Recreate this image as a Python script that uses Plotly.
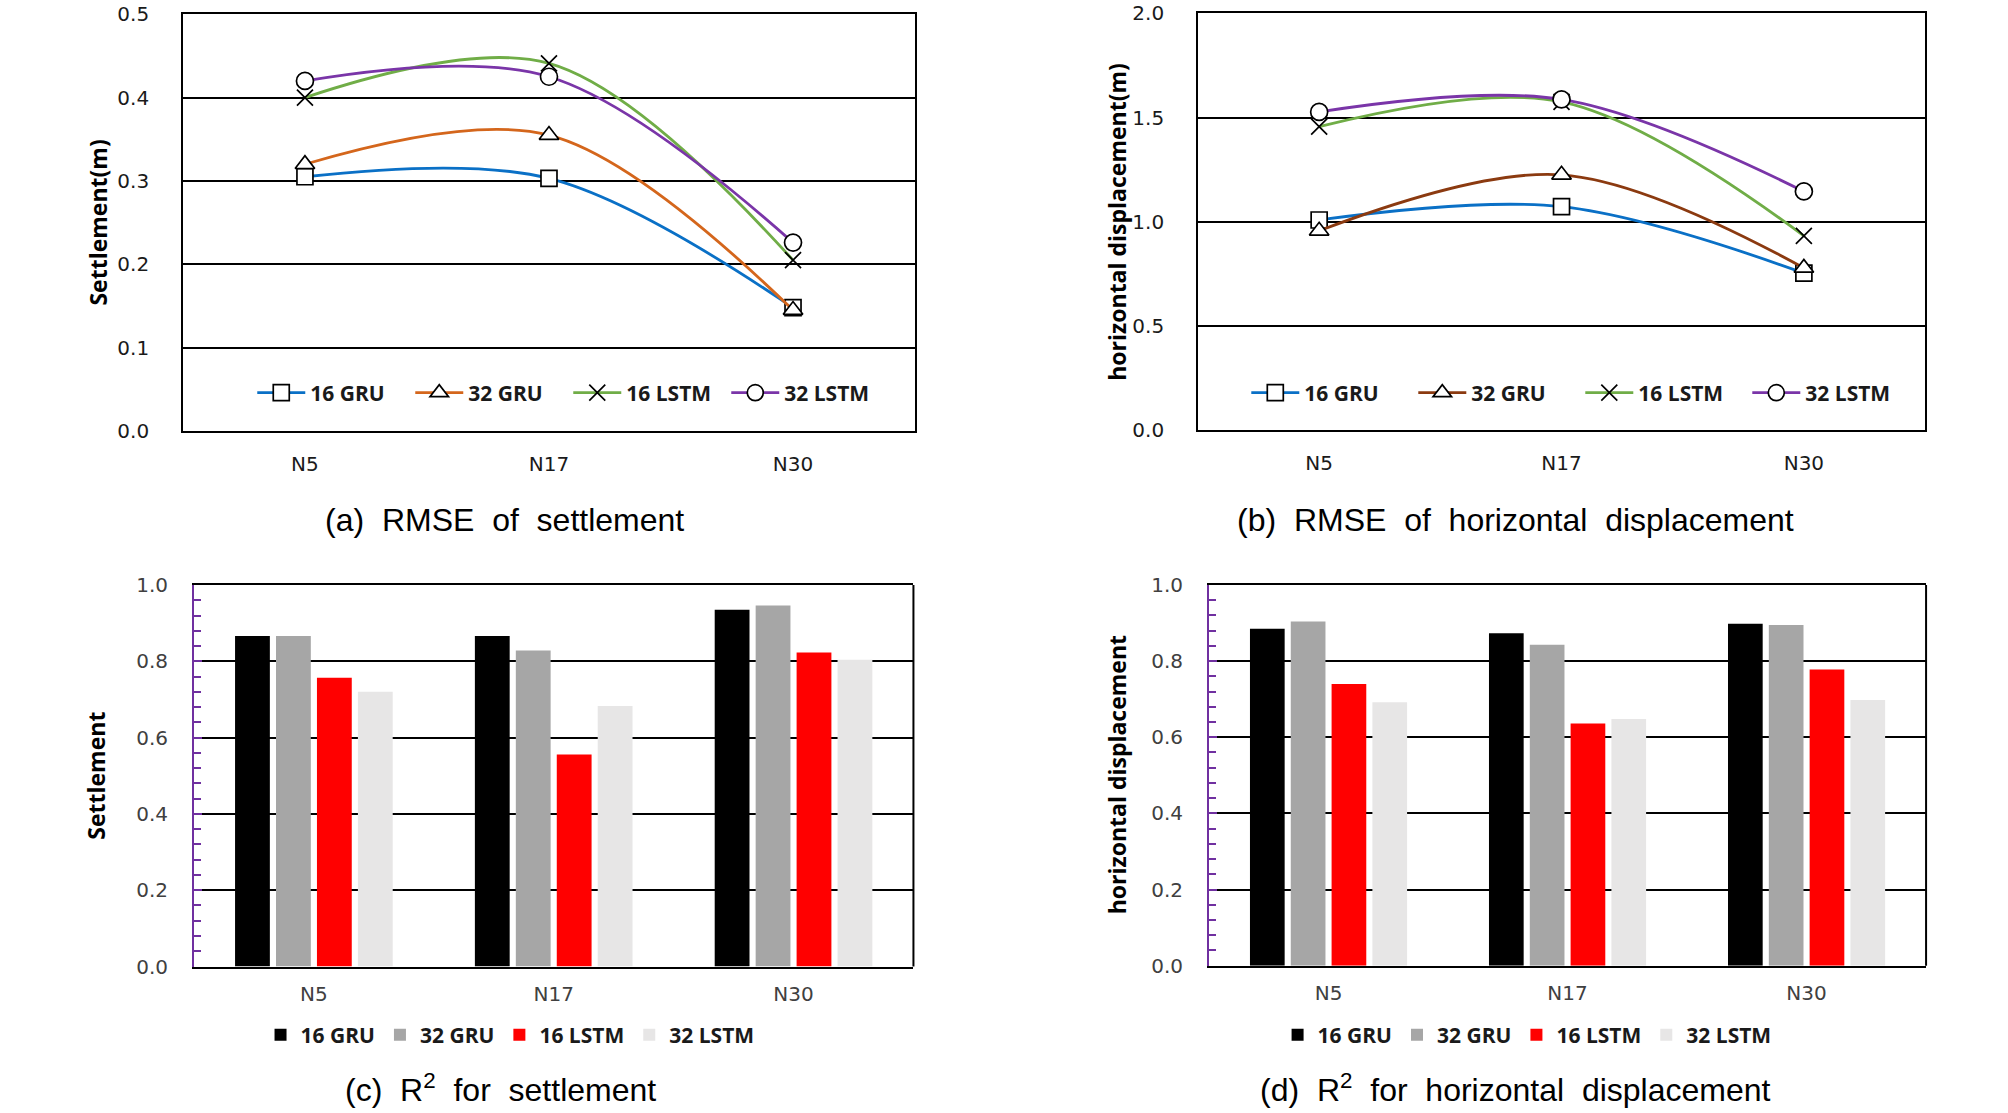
import plotly.graph_objects as go

# categories
stations = ["N5", "N17", "N30"]
models = ["16 GRU", "32 GRU", "16 LSTM", "32 LSTM"]

# (a) RMSE of settlement (m)
rmse_set_16gru = [0.305, 0.303, 0.148]
rmse_set_32gru = [0.320, 0.355, 0.145]
rmse_set_16lstm = [0.400, 0.441, 0.205]
rmse_set_32lstm = [0.420, 0.425, 0.226]

# (b) RMSE of horizontal displacement (m)
rmse_hor_16gru = [1.008, 1.072, 0.753]
rmse_hor_32gru = [0.956, 1.225, 0.778]
rmse_hor_16lstm = [1.456, 1.575, 0.932]
rmse_hor_32lstm = [1.527, 1.587, 1.145]

# (c) R2 for settlement
r2_set_16gru = [0.866, 0.866, 0.935]
r2_set_32gru = [0.866, 0.828, 0.946]
r2_set_16lstm = [0.757, 0.556, 0.823]
r2_set_32lstm = [0.720, 0.683, 0.804]

# (d) R2 for horizontal displacement
r2_hor_16gru = [0.885, 0.873, 0.898]
r2_hor_32gru = [0.904, 0.843, 0.895]
r2_hor_16lstm = [0.740, 0.636, 0.778]
r2_hor_32lstm = [0.692, 0.648, 0.698]

W, H = 2008, 1113
TICK_FONT = "DejaVu Sans"
BOLD_FONT = "Open Sans"
TITLE_FONT = "Liberation Sans Narrow, Liberation Sans, Arial, sans-serif"
PURPLE_AXIS = "#7030a0"

fig = go.Figure()

symbols = ["square", "triangle-up", "x-thin", "circle"]
sizes = [16, 17, 16, 17]
colors_a = ["#0a70c6", "#d4661c", "#70ad47", "#7a35a8"]
colors_b = ["#0a70c6", "#8b3a10", "#70ad47", "#7a35a8"]

series_a = [rmse_set_16gru, rmse_set_32gru, rmse_set_16lstm, rmse_set_32lstm]
series_b = [rmse_hor_16gru, rmse_hor_32gru, rmse_hor_16lstm, rmse_hor_32lstm]

for i, ys in enumerate(series_a):
    fig.add_trace(go.Scatter(
        x=stations, y=ys, name=models[i], mode="lines+markers",
        line=dict(color=colors_a[i], width=2.8, shape="spline", smoothing=1.0),
        marker=dict(symbol=symbols[i], size=sizes[i], color="white",
                    line=dict(color="black", width=1.7)),
        xaxis="x", yaxis="y", legend="legend"))

for i, ys in enumerate(series_b):
    fig.add_trace(go.Scatter(
        x=stations, y=ys, name=models[i], mode="lines+markers",
        line=dict(color=colors_b[i], width=2.8, shape="spline", smoothing=1.0),
        marker=dict(symbol=symbols[i], size=sizes[i], color="white",
                    line=dict(color="black", width=1.7)),
        xaxis="x2", yaxis="y2", legend="legend2"))

bar_colors = ["#000000", "#a6a6a6", "#ff0000", "#e7e6e6"]
series_c = [r2_set_16gru, r2_set_32gru, r2_set_16lstm, r2_set_32lstm]
series_d = [r2_hor_16gru, r2_hor_32gru, r2_hor_16lstm, r2_hor_32lstm]

for i, ys in enumerate(series_c):
    fig.add_trace(go.Bar(x=stations, y=ys, name=models[i],
                         marker=dict(color=bar_colors[i], line=dict(width=0)),
                         xaxis="x3", yaxis="y3", legend="legend3"))

for i, ys in enumerate(series_d):
    fig.add_trace(go.Bar(x=stations, y=ys, name=models[i],
                         marker=dict(color=bar_colors[i], line=dict(width=0)),
                         xaxis="x4", yaxis="y4", legend="legend4"))


def line_x(domain, anchor):
    return dict(domain=domain, anchor=anchor, type="category", range=[-0.5, 2.5],
                showline=True, linecolor="black", linewidth=2, mirror=True,
                showgrid=False, ticks="", automargin=False,
                tickfont=dict(family=TICK_FONT, size=20, color="#1a1a1a"),
                ticklabelstandoff=14)


def line_y(domain, anchor, top, step):
    return dict(domain=domain, anchor=anchor, range=[0, top], dtick=step,
                tickformat=".1f", showline=True, linecolor="black", linewidth=1.6,
                mirror=True, showgrid=True, gridcolor="black", gridwidth=1.6,
                zeroline=False, ticks="", automargin=False,
                tickfont=dict(family=TICK_FONT, size=20, color="#1a1a1a"),
                ticklabelstandoff=28)


def bar_x(domain, anchor):
    return dict(domain=domain, anchor=anchor, type="category", range=[-0.5, 2.5],
                showline=True, linecolor="black", linewidth=2, mirror=True,
                showgrid=False, ticks="", automargin=False,
                tickfont=dict(family=TICK_FONT, size=20, color="#404040"),
                ticklabelstandoff=8)


def bar_y(domain, anchor):
    return dict(domain=domain, anchor=anchor, range=[0, 1.0], dtick=0.2,
                tickformat=".1f", showline=True, linecolor=PURPLE_AXIS, linewidth=2,
                showgrid=True, gridcolor="black", gridwidth=1.8, zeroline=False,
                ticks="inside", ticklen=8, tickwidth=1.5, tickcolor=PURPLE_AXIS,
                minor=dict(dtick=0.04, ticks="inside", ticklen=7, tickwidth=1.5,
                           tickcolor=PURPLE_AXIS, showgrid=False),
                automargin=False,
                tickfont=dict(family=TICK_FONT, size=20, color="#404040"),
                ticklabelstandoff=20)


dom_a_x, dom_a_y = [0.0911, 0.4557], [0.6128, 0.9872]
dom_b_x, dom_b_y = [0.5966, 0.9587], [0.6137, 0.9880]
dom_c_x, dom_c_y = [0.0966, 0.4549], [0.1316, 0.4744]
dom_d_x, dom_d_y = [0.6021, 0.9592], [0.1324, 0.4744]

legend_font = dict(family=BOLD_FONT, size=21, color="#1a1a1a", weight="bold")


def legend_at(x, y, itemwidth, entrywidth):
    return dict(orientation="h", x=x, y=y, xanchor="center", yanchor="middle",
                bgcolor="rgba(0,0,0,0)", font=legend_font, itemwidth=itemwidth,
                entrywidth=entrywidth, entrywidthmode="pixels",
                traceorder="normal", tracegroupgap=0)


fig.update_layout(
    width=W, height=H, autosize=False,
    margin=dict(l=0, r=0, t=0, b=0, autoexpand=False),
    paper_bgcolor="white", plot_bgcolor="white",
    barmode="group", bargap=0.317, bargroupgap=0.15,
    xaxis=line_x(dom_a_x, "y"), yaxis=line_y(dom_a_y, "x", 0.5, 0.1),
    xaxis2=line_x(dom_b_x, "y2"), yaxis2=line_y(dom_b_y, "x2", 2.0, 0.5),
    xaxis3=bar_x(dom_c_x, "y3"), yaxis3=bar_y(dom_c_y, "x3"),
    xaxis4=bar_x(dom_d_x, "y4"), yaxis4=bar_y(dom_d_y, "x4"),
    legend=legend_at(0.2830, 0.6469, 48, 95),
    legend2=legend_at(0.7870, 0.6469, 48, 104),
    legend3=legend_at(0.254, 0.0701, 30, 0),
    legend4=legend_at(0.7605, 0.0701, 30, 0),
    showlegend=True,
)

# right border of the bar panels is black while the value axis is purple
for xr, yr in [("x3 domain", "y3 domain"), ("x4 domain", "y4 domain")]:
    fig.add_shape(type="line", xref=xr, yref=yr, x0=1, x1=1, y0=0, y1=1,
                  line=dict(color="black", width=2), layer="above")

# y axis titles
ytitles = [
    ("Settlement(m)", 0.0488, 0.8000),
    ("horizontal displacement(m)", 0.5563, 0.8008),
    ("Settlement", 0.0478, 0.3030),
    ("horizontal displacement", 0.5563, 0.3034),
]
for text, x, y in ytitles:
    fig.add_annotation(text=text, x=x, y=y, xref="paper", yref="paper",
                       textangle=-90, showarrow=False, xanchor="center", yanchor="middle",
                       font=dict(family=BOLD_FONT, size=23, color="black", weight="bold"))

# panel captions
sp = "&nbsp; "
captions = [
    ("(a)" + sp + "RMSE" + sp + "of" + sp + "settlement", 0.2510, 0.5330),
    ("(b)" + sp + "RMSE" + sp + "of" + sp + "horizontal" + sp + "displacement", 0.7545, 0.5330),
    ("(c)" + sp + "R<sup>2</sup>" + sp + "for" + sp + "settlement", 0.2493, 0.0225),
    ("(d)" + sp + "R<sup>2</sup>" + sp + "for" + sp + "horizontal" + sp + "displacement", 0.7545, 0.0225),
]
for text, x, y in captions:
    fig.add_annotation(text=text, x=x, y=y, xref="paper", yref="paper",
                       showarrow=False, xanchor="center", yanchor="middle",
                       font=dict(family=TITLE_FONT, size=32, color="black"))

fig.write_html("out.html", config={"displayModeBar": False},
               post_script="document.body.style.margin='0';")
